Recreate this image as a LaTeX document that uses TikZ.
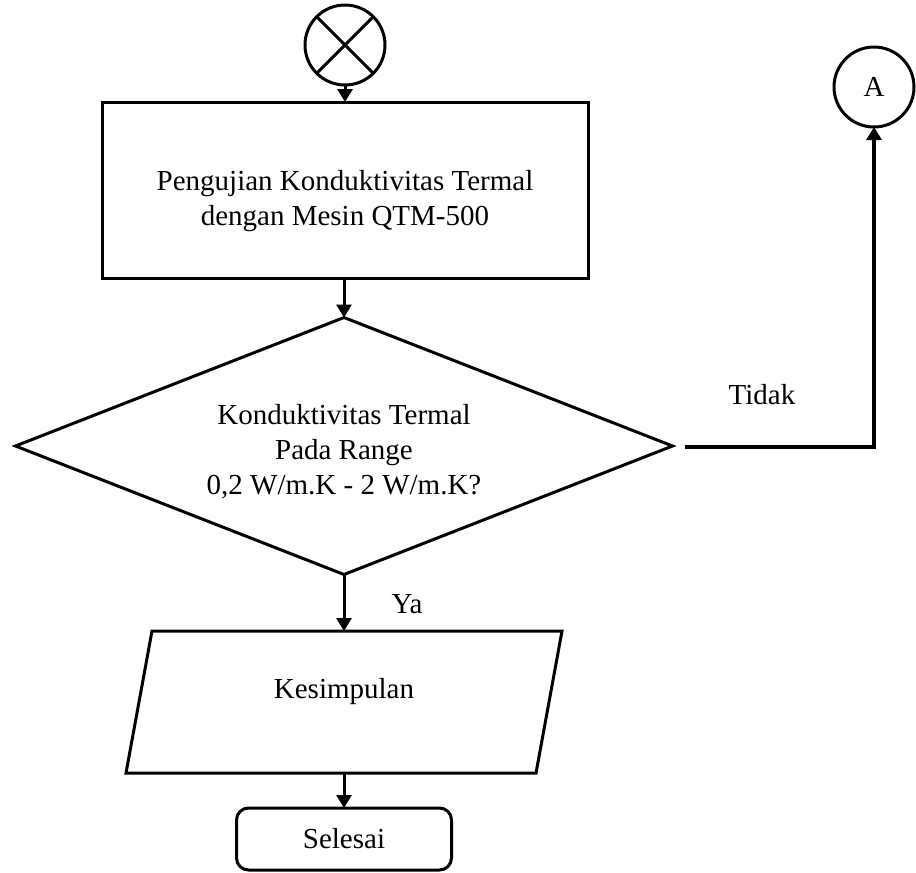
\documentclass[tikz,border=0pt]{standalone}
\usepackage{fontspec}
\setmainfont{Liberation Serif}
\usetikzlibrary{arrows.meta,shapes.geometric,calc}
\begin{document}
\begin{tikzpicture}[x=1pt,y=-1pt,
  line width=3pt,
  every node/.style={font=\fontsize{29}{35}\selectfont},
  conn/.style={-{Triangle[width=15pt,length=13pt]}},
  box/.style={draw,rectangle,inner sep=0pt,outer sep=0pt},
  txt/.style={align=center,inner sep=0pt}
]
\useasboundingbox (0,0) rectangle (916,873);
% start connector
\node[draw,circle,minimum size=80pt,inner sep=0pt,outer sep=0pt] (start) at (345,45) {};
\draw ($(start.center)+(45:40)$) -- ($(start.center)+(225:40)$);
\draw ($(start.center)+(135:40)$) -- ($(start.center)+(-45:40)$);
% process
\node[box,minimum width=486pt,minimum height=176pt] (proc) at (345,190) {};
\node[txt] (proctext) at ($(proc.center)+(0,11)$) {Pengujian Konduktivitas Termal\\dengan Mesin QTM-500};
% decision
\node[draw,diamond,minimum width=657pt,minimum height=257pt,inner sep=0pt,outer sep=0pt] (dec) at (344,446) {};
\node[txt] (dectext) at ($(dec.center)+(0,6)$) {Konduktivitas Termal\\Pada Range\\0,2 W/m.K - 2 W/m.K?};
% parallelogram
\coordinate (p1) at (152,631);
\coordinate (p2) at (562,631);
\coordinate (p3) at (536,773);
\coordinate (p4) at (126,773);
\draw (p1) -- (p2) -- (p3) -- (p4) -- cycle;
\node[inner sep=0pt,outer sep=0pt,minimum width=410pt,minimum height=142pt] (para) at (344,702) {};
\node[txt] (paratext) at ($(para.center)+(0,-10)$) {Kesimpulan};
% end
\node[draw,rectangle,rounded corners=12pt,minimum width=215pt,minimum height=62pt,outer sep=0pt] (stop) at (344,839) {Selesai};
% connector A
\node[draw,circle,minimum size=80pt,inner sep=0pt,outer sep=0pt] (A) at (874,87) {A};
% connectors
\draw[conn] (start.south) -- (start.south |- proc.north);
\draw[conn] (proc.south -| dec.north) -- (dec.north);
\draw[conn] (dec.south) -- (para.north);
\draw[conn] (para.south) -- (stop.north);
\coordinate (tstart) at ($(dec.east)+(12,1)$);
\draw[conn,line width=4.5pt] (tstart) -| (A.south);
\node[txt] (tidak) at (762,395) {Tidak};
\node[txt] (ya) at (407,604) {Ya};
\end{tikzpicture}
\end{document}
